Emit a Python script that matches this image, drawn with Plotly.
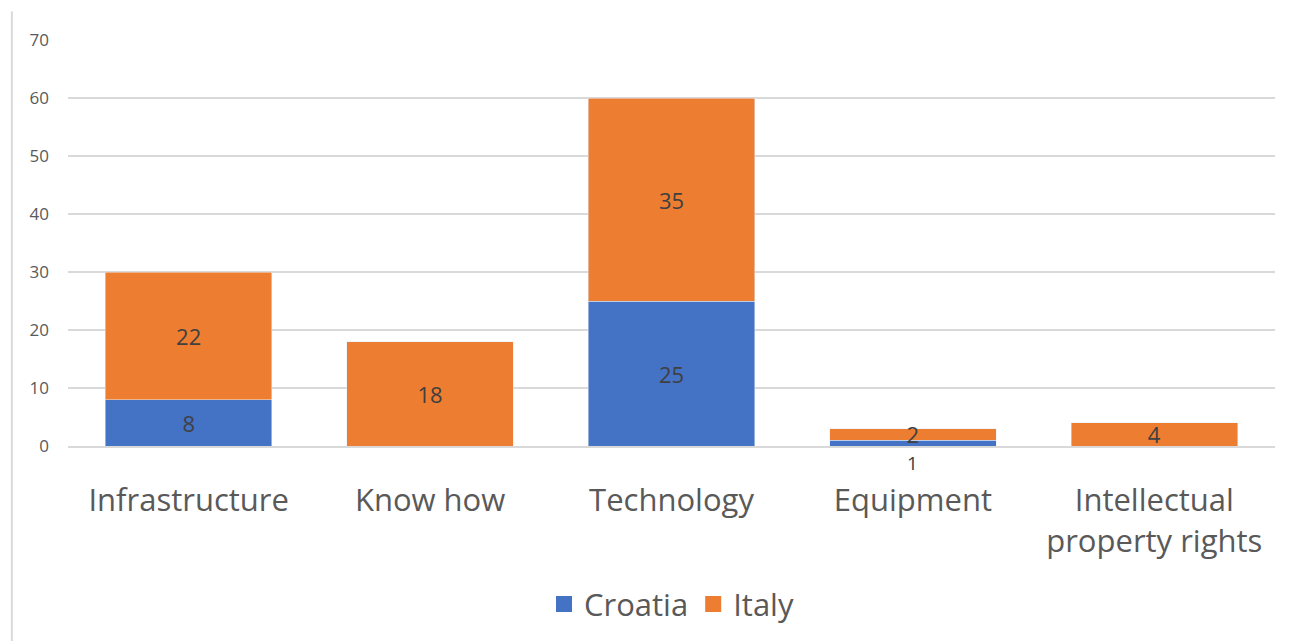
import plotly.graph_objects as go

categories = ["Infrastructure", "Know how", "Technology", "Equipment",
              "Intellectual<br>property rights"]
croatia = [8, 0, 25, 1, 0]
italy = [22, 18, 35, 2, 4]
y_ticks = [0, 10, 20, 30, 40, 50, 60, 70]

FONT = "'Open Sans', Lato, sans-serif"
BLUE = "#4472C4"
ORANGE = "#ED7D31"
LABEL_FONT = dict(size=22, color="#404040", family=FONT)

# bars too thin to hold their label get it written beneath the baseline
THIN = 1.5


def inside_labels(vals):
    return [str(v) if v >= THIN else "" for v in vals]


fig = go.Figure()
for name, vals, color in (("Croatia", croatia, BLUE), ("Italy", italy, ORANGE)):
    fig.add_trace(go.Bar(
        name=name, x=categories, y=vals, marker_color=color,
        text=inside_labels(vals), textposition="inside",
        insidetextanchor="middle", textangle=0, constraintext="none",
        cliponaxis=False, textfont=LABEL_FONT,
        showlegend=False, legendgroup=name,
    ))
    # square swatch for the legend entry
    fig.add_trace(go.Scatter(
        name=name, x=[categories[0]], y=[None], mode="markers",
        marker=dict(symbol="square", size=20, color=color),
        legendgroup=name, hoverinfo="skip",
    ))

annotations = [
    dict(x=cat, y=0, yref="y", text=str(v), showarrow=False,
         yanchor="top", yshift=-3, borderpad=0,
         font=dict(size=19, color="#404040", family=FONT))
    for cat, v in zip(categories, croatia) if 0 < v < THIN
]

fig.update_layout(
    barmode="stack",
    bargap=0.31,
    width=1300, height=643,
    margin=dict(l=68, r=25, t=40, b=197),
    paper_bgcolor="white", plot_bgcolor="white",
    font=dict(family=FONT, color="#595959"),
    uniformtext=dict(minsize=10, mode="show"),
    legend=dict(
        orientation="h", x=0.5, xanchor="center", y=-0.39, yanchor="middle",
        font=dict(size=31, color="#595959"),
        traceorder="normal", itemwidth=30,
    ),
    xaxis=dict(
        showgrid=False, showline=True, linecolor="#D9D9D9", linewidth=2,
        tickfont=dict(size=31, color="#595959"), ticks="",
        ticklabelstandoff=26,
    ),
    yaxis=dict(
        range=[0, 70], tickvals=y_ticks, showgrid=True, gridcolor="#D9D9D9",
        gridwidth=2, zeroline=False, showline=False, ticks="",
        tickfont=dict(size=17, color="#595959"), ticklabelstandoff=18,
    ),
    annotations=annotations,
    shapes=[dict(type="line", xref="paper", yref="paper",
                 x0=-0.0465, x1=-0.0465, y0=-0.48, y1=1.07,
                 line=dict(color="#D9D9D9", width=2))],
)

fig.write_html("out.html")
